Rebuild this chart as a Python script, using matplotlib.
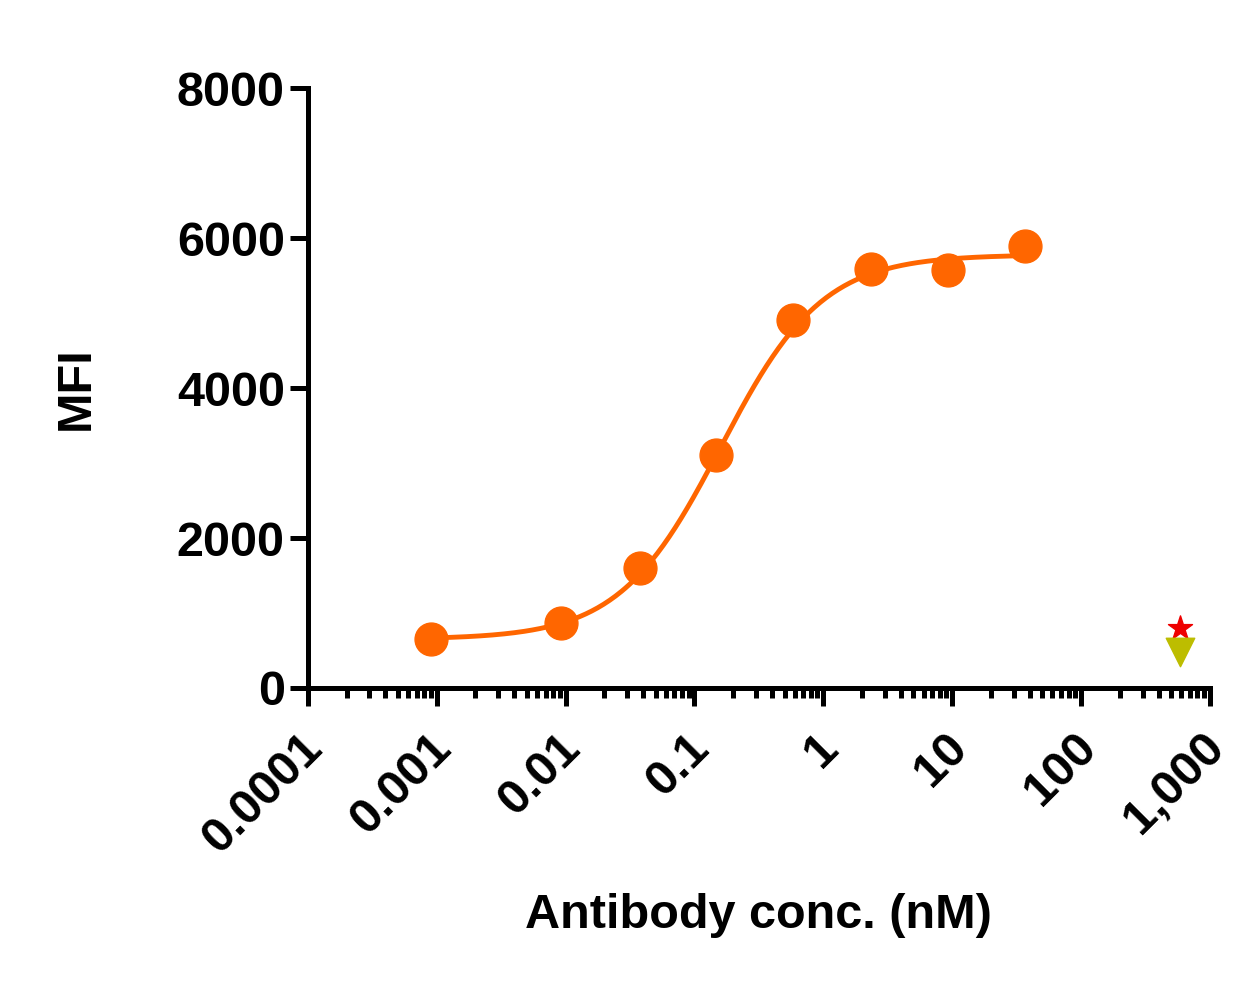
import numpy as np
import matplotlib
matplotlib.use("Agg")
import matplotlib.pyplot as plt
import matplotlib.transforms as mtransforms
from matplotlib.ticker import FixedLocator, FixedFormatter, LogLocator, NullFormatter

plt.rcParams["font.family"] = ["Liberation Sans", "DejaVu Sans"]
plt.rcParams["font.weight"] = "bold"

# datos
conc = [0.0009, 0.0093, 0.0375, 0.148, 0.585, 2.36, 9.3, 36.8]
mfi = [653, 867, 1600, 3107, 4907, 5587, 5573, 5893]
ctrl_star_x = [585]
ctrl_star_y = [800]
ctrl_tri_x = [585]
ctrl_tri_y = [480]

# parametros de ajuste 4PL estimados
bottom = 650
top = 5780
ec50 = 0.16
hill = 1.1

x_ticks = [0.0001, 0.001, 0.01, 0.1, 1, 10, 100, 1000]
x_labels = ["0.0001", "0.001", "0.01", "0.1", "1", "10", "100", "1,000"]
y_ticks = [0, 2000, 4000, 6000, 8000]

fig = plt.figure(figsize=(12.41, 9.81), dpi=100)
ax = fig.add_axes([0.248, 0.2987, 0.727, 0.6113])

xs = np.logspace(np.log10(conc[0]), np.log10(conc[-1]), 300)
ys = bottom + (top - bottom) / (1 + (ec50 / xs) ** hill)
ax.plot(xs, ys, color="#ff6600", lw=3.5, zorder=2)
ax.scatter(conc, mfi, s=560, color="#ff6600", zorder=3, clip_on=False)
ax.scatter(ctrl_star_x, ctrl_star_y, marker="*", s=330, color="#ee0000", zorder=3)
ax.scatter(ctrl_tri_x, ctrl_tri_y, marker="v", s=420, color="#bdbd00", zorder=3)

ax.set_xscale("log")
ax.set_xlim(0.0001, 1000)
ax.set_ylim(0, 8000)
ax.xaxis.set_major_locator(FixedLocator(x_ticks))
ax.xaxis.set_major_formatter(FixedFormatter(x_labels))
ax.xaxis.set_minor_locator(LogLocator(base=10, subs=np.arange(2, 10), numticks=20))
ax.xaxis.set_minor_formatter(NullFormatter())
ax.set_yticks(y_ticks)

for s in ["top", "right"]:
    ax.spines[s].set_visible(False)
for s in ["left", "bottom"]:
    ax.spines[s].set_linewidth(3.6)

ax.tick_params(axis="both", which="major", width=3.6, length=13, labelsize=35)
ax.tick_params(axis="x", which="major", pad=14)
ax.tick_params(axis="x", which="minor", width=3.6, length=7)
shift = mtransforms.ScaledTranslation(-0.08, 0, fig.dpi_scale_trans)
for lab in ax.get_xticklabels():
    lab.set_rotation(45)
    lab.set_ha("right")
    lab.set_rotation_mode("anchor")
    lab.set_fontweight("bold")
    lab.set_transform(lab.get_transform() + shift)
plt.setp(ax.get_yticklabels(), fontweight="bold")

ax.set_xlabel("Antibody conc. (nM)", fontsize=35, fontweight="bold", labelpad=22)
ax.set_ylabel("MFI", fontsize=35, fontweight="bold", labelpad=56)

fig.savefig("out.png", dpi=100)
